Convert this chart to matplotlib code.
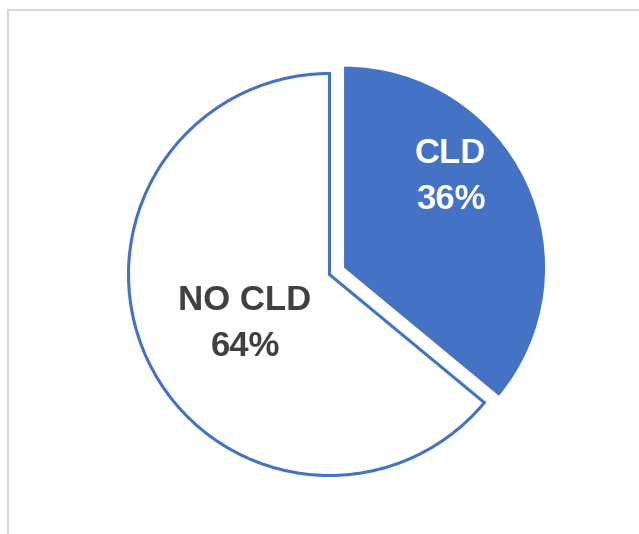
import matplotlib.pyplot as plt
from matplotlib.lines import Line2D

labels = ['CLD', 'NO CLD']
values = [36, 64]
explode = [0.08, 0]

blue = '#4472C4'

fig = plt.figure(figsize=(6.39, 5.34), dpi=100)
ax = fig.add_axes([0, 0, 1, 1])

wedges, _ = ax.pie(values, explode=explode, startangle=90, counterclock=False,
                   colors=[blue, 'white'], radius=1)
wedges[0].set_edgecolor('none')
wedges[1].set_edgecolor(blue)
wedges[1].set_linewidth(2.2)
wedges[1].set_joinstyle('miter')

# pixel-matched view: center at (329.5, 274.5) px, radius 201 px
s = 201
cx, cy = 329.5, 274.5
ax.set_xlim(-cx / s, (639 - cx) / s)
ax.set_ylim(-(534 - cy) / s, cy / s)
ax.set_aspect('auto')
ax.axis('off')

font = ['Liberation Sans', 'DejaVu Sans']
ax.text(0.602, 0.49, f'{labels[0]}\n{values[0]}%', ha='center', va='center',
        color='white', fontsize=25, fontweight='bold', family=font, linespacing=1.5)
ax.text(-0.42, -0.245, f'{labels[1]}\n{values[1]}%', ha='center', va='center',
        color='#404040', fontsize=25, fontweight='bold', family=font, linespacing=1.5)

# chart frame (light gray, cut off at right and bottom)
W, H = 639, 534
fig.add_artist(Line2D([8 / W, 1], [1 - 10 / H, 1 - 10 / H], color='#d9d9d9', lw=1.5))
fig.add_artist(Line2D([8 / W, 8 / W], [0, 1 - 10 / H], color='#d9d9d9', lw=1.5))

fig.savefig('out.png', dpi=100)
